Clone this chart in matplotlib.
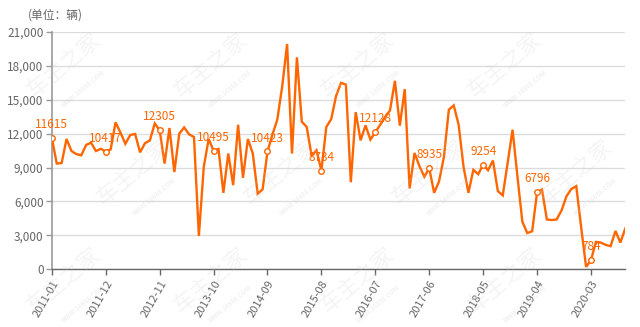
import pandas as pd
import matplotlib
matplotlib.use("Agg")
import matplotlib.pyplot as plt
from matplotlib.ticker import FuncFormatter

plt.rcParams['font.family'] = ['Noto Sans CJK SC', 'DejaVu Sans']

# monthly sales, 2011-01 .. 2020-10
months = pd.date_range("2011-01-01", periods=118, freq="MS").strftime("%Y-%m").tolist()
sales = [
    11615, 9350, 9400, 11530, 10460, 10190, 10080, 11000, 11200, 10460,
    10660, 10417, 10600, 13000, 12100, 11100, 11880, 11970, 10340, 11150,
    11400, 12900, 12305, 9350, 12500, 8600, 12000, 12550, 11940, 11700,
    2940, 9060, 11530, 10495, 10650, 6760, 10240, 7440, 12790, 8090,
    11530, 10240, 6680, 7060, 10423, 11910, 13240, 16180, 19940, 10240,
    18760, 13060, 12590, 10060, 10530, 8734, 12590, 13290, 15350, 16500,
    16350, 7700, 13910, 11410, 12740, 11470, 12128, 12790, 13470, 14060,
    16680, 12710, 15940, 7150, 10290, 9120, 8180, 8935, 6760, 7760,
    9940, 14120, 14500, 12790, 9060, 6760, 8790, 8410, 9254, 8760,
    9620, 6910, 6530, 9410, 12350, 8200, 4200, 3200, 3350, 6796,
    7060, 4400, 4350, 4400, 5200, 6450, 7100, 7350, 3700, 200,
    784, 2410, 2350, 2150, 2030, 3380, 2350, 3600,
]
tick_step = 11
y_ticks = [0, 3000, 6000, 9000, 12000, 15000, 18000, 21000]

line_color = "#ff6600"
label_color = "#666666"

fig = plt.figure(figsize=(6.4, 3.27), dpi=100)
ax = fig.add_axes([0.081, 0.177, 0.896, 0.725])

# faint site watermark tiled over the plot
for row, wy in enumerate([0.80, 0.47, 0.14]):
    shift = 0.0 if row % 2 == 0 else 0.11
    for wx in [0.10, 0.33, 0.56, 0.79]:
        fig.text(wx + shift, wy, "车主之家", fontsize=16, rotation=40, color="#d0d0d0",
                 alpha=0.22, ha="center", va="center", zorder=0)
        fig.text(wx + shift + 0.03, wy - 0.07, "WWW.16888.COM", fontsize=4.5, rotation=40,
                 color="#d0d0d0", alpha=0.3, ha="center", va="center", zorder=0, weight="bold")

x = list(range(len(sales)))
ax.plot(x, sales, color=line_color, lw=1.7, zorder=3, solid_joinstyle="miter")

# value labels on every tick month
marked = x[::tick_step]
ax.plot(marked, [sales[i] for i in marked], "o", ms=4, mfc="white", mec=line_color,
        mew=1.0, zorder=4)
for i in marked:
    ax.annotate(str(sales[i]), (i, sales[i]), xytext=(0, 5), textcoords="offset points",
                ha="center", va="bottom", fontsize=8.5, color=line_color, zorder=5)

ax.set_xlim(0, len(sales) - 1)
ax.set_ylim(0, 21000)
ax.set_yticks(y_ticks)
ax.yaxis.set_major_formatter(FuncFormatter(lambda v, p: f"{int(v):,}"))
ax.set_xticks(marked)
ax.set_xticklabels([months[i] for i in marked], rotation=60, ha="right", va="top",
                   rotation_mode="anchor")

ax.grid(axis="y", color="#dcdcdc", lw=1.0)
ax.set_axisbelow(True)
for s in ["top", "right"]:
    ax.spines[s].set_visible(False)
ax.spines["left"].set_color("#999999")
ax.spines["left"].set_linewidth(1.2)
ax.spines["bottom"].set_color("#666666")
ax.spines["bottom"].set_linewidth(1.0)
ax.tick_params(axis="y", colors="#999999", labelcolor=label_color, labelsize=8.5,
               length=4, width=1, pad=2)
ax.tick_params(axis="x", colors="#666666", labelcolor=label_color, labelsize=8,
               length=4, width=1, pad=3)
ax.patch.set_alpha(0)

fig.text(0.044, 0.955, "(单位：辆)", fontsize=8.5, color=label_color, ha="left", va="center")

fig.savefig("out.png", dpi=100)
